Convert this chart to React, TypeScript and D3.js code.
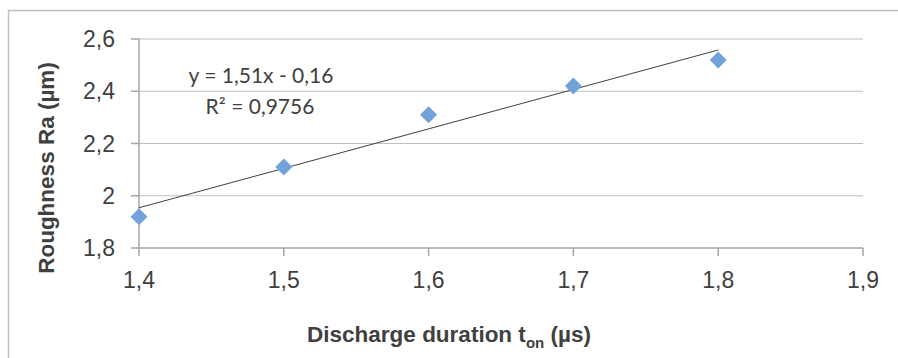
import React from "react";
import * as d3 from "d3";

// Discharge duration t_on (µs) vs roughness Ra (µm)
const tOn = [1.4, 1.5, 1.6, 1.7, 1.8];
const roughness = [1.92, 2.11, 2.31, 2.42, 2.52];
const xTicks = [1.4, 1.5, 1.6, 1.7, 1.8, 1.9];
const yTicks = [1.8, 2.0, 2.2, 2.4, 2.6];
const slope = 1.51;
const intercept = -0.16;
const eqLabel = "y = 1,51x - 0,16";
const r2Label = "R² = 0,9756";

const W = 898;
const H = 358;
const margin = { top: 39, right: 35, bottom: 110, left: 139 };

const fmt = (v: number) => {
  const s = Number.isInteger(v) ? String(v) : v.toFixed(1);
  return s.replace(".", ",");
};

export default function App() {
  const x = d3
    .scaleLinear()
    .domain([1.4, 1.9])
    .range([margin.left, W - margin.right]);
  const y = d3
    .scaleLinear()
    .domain([1.8, 2.6])
    .range([H - margin.bottom, margin.top]);

  const x0 = x.range()[0];
  const x1 = x.range()[1];
  const yb = y.range()[0];
  const yt = y.range()[1];

  const trend = d3.line<number>()
    .x((d) => x(d))
    .y((d) => y(slope * d + intercept));
  const trendX = [d3.min(tOn)!, d3.max(tOn)!];

  const diamond = d3.symbol().type(d3.symbolDiamond2).size(185)();

  const tickFont = "'Liberation Sans', Arial, sans-serif";

  return (
    <svg
      width={W}
      height={H}
      style={{ position: "absolute", left: 0, top: 0, background: "#fff" }}
    >
      {/* outer chart frame */}
      <rect x={8.5} y={10.5} width={W + 20} height={H + 20} fill="#fff" stroke="#bfbfbf" strokeWidth={1.5} />

      {/* horizontal gridlines */}
      {yTicks.slice(1).map((t) => (
        <line key={"g" + t} x1={x0} x2={x1} y1={y(t)} y2={y(t)} stroke="#bfbfbf" strokeWidth={1.2} />
      ))}

      {/* y axis */}
      <line x1={x0} x2={x0} y1={yt} y2={yb} stroke="#a6a6a6" strokeWidth={1.5} />
      {yTicks.map((t) => (
        <g key={"y" + t}>
          <line x1={x0 - 8} x2={x0} y1={y(t)} y2={y(t)} stroke="#a6a6a6" strokeWidth={1.5} />
          <text
            x={115}
            y={y(t)}
            dy="0.35em"
            textAnchor="end"
            fontFamily={tickFont}
            fontSize={23}
            fill="#404040"
          >
            {fmt(t)}
          </text>
        </g>
      ))}

      {/* x axis */}
      <line x1={x0} x2={x1} y1={yb} y2={yb} stroke="#a6a6a6" strokeWidth={1.5} />
      {xTicks.map((t) => (
        <g key={"x" + t}>
          <line x1={x(t)} x2={x(t)} y1={yb} y2={yb + 8} stroke="#a6a6a6" strokeWidth={1.5} />
          <text
            x={x(t)}
            y={288}
            textAnchor="middle"
            fontFamily={tickFont}
            fontSize={23}
            fill="#404040"
          >
            {fmt(t)}
          </text>
        </g>
      ))}

      {/* trendline */}
      <path d={trend(trendX) || ""} fill="none" stroke="#404040" strokeWidth={1} />

      {/* points */}
      {tOn.map((t, i) => (
        <path
          key={"p" + t}
          d={diamond || ""}
          transform={`translate(${x(t)},${y(roughness[i])})`}
          fill="#71a2da"
        />
      ))}

      {/* trendline label */}
      <text x={261} y={83} textAnchor="middle" fontFamily="Lato, 'Open Sans', sans-serif" fontSize={21} fill="#404040">
        {eqLabel}
      </text>
      <text x={260} y={114} textAnchor="middle" fontFamily="Lato, 'Open Sans', sans-serif" fontSize={21} fill="#404040">
        {r2Label}
      </text>

      {/* axis titles */}
      <text
        transform="translate(54,168) rotate(-90)"
        textAnchor="middle"
        fontFamily={tickFont}
        fontWeight="bold"
        fontSize={22.5}
        fill="#404040"
      >
        Roughness Ra (µm)
      </text>
      <text
        x={449}
        y={342}
        textAnchor="middle"
        fontFamily={tickFont}
        fontWeight="bold"
        fontSize={22.5}
        fill="#404040"
      >
        Discharge duration t
        <tspan fontSize={15} dy={6}>on</tspan>
        <tspan dy={-6}> (µs)</tspan>
      </text>
    </svg>
  );
}
